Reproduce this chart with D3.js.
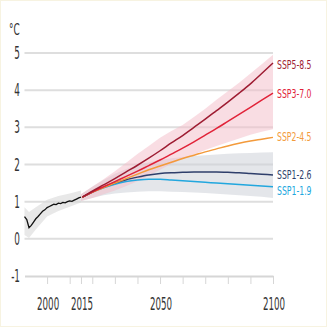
<!DOCTYPE html>
<html>
<head>
<meta charset="utf-8">
<script src="https://cdn.jsdelivr.net/npm/d3@7"></script>
<style>
  html, body { margin: 0; padding: 0; background: #fff; }
  svg { display: block; }
  text { font-family: "Liberation Sans Narrow", "DejaVu Sans Condensed", "Liberation Sans", sans-serif; }
</style>
</head>
<body>
<script>
    // historical record
    const histYears = [1990, 1991, 1992, 1993, 1994, 1995, 1996, 1997, 1998, 1999, 2000, 2001, 2002,
      2003, 2004, 2005, 2006, 2007, 2008, 2009, 2010, 2011, 2012, 2013, 2014, 2015];
    const histValues = [0.6, 0.52, 0.3, 0.36, 0.45, 0.54, 0.6, 0.67, 0.74, 0.78, 0.84, 0.87, 0.9,
      0.93, 0.92, 0.96, 0.95, 0.98, 0.97, 1.0, 1.02, 1.01, 1.04, 1.07, 1.1, 1.12];
    const histBandYears = [1990, 1992, 1995, 2000, 2005, 2010, 2015];
    const histLow = [0.1, 0.02, 0.25, 0.6, 0.75, 0.86, 0.98];
    const histHigh = [0.85, 0.72, 0.85, 1.05, 1.15, 1.22, 1.3];

    // scenario projections
    const projYears = [2015, 2020, 2025, 2030, 2035, 2040, 2045, 2050, 2055, 2060, 2065, 2070, 2075, 2080, 2085, 2090, 2095, 2100];
    const ssp585 = [1.12, 1.28, 1.45, 1.62, 1.8, 1.98, 2.17, 2.37, 2.58, 2.78, 3.0, 3.22, 3.45, 3.68, 3.92, 4.17, 4.45, 4.73];
    const ssp370 = [1.12, 1.26, 1.4, 1.54, 1.68, 1.82, 1.97, 2.12, 2.28, 2.44, 2.61, 2.79, 2.97, 3.16, 3.35, 3.54, 3.73, 3.92];
    const ssp245 = [1.12, 1.25, 1.38, 1.5, 1.62, 1.74, 1.86, 1.96, 2.06, 2.16, 2.25, 2.34, 2.42, 2.5, 2.57, 2.63, 2.68, 2.73];
    const ssp126 = [1.12, 1.26, 1.39, 1.5, 1.59, 1.66, 1.72, 1.76, 1.78, 1.79, 1.8, 1.8, 1.8, 1.79, 1.78, 1.76, 1.74, 1.72];
    const ssp119 = [1.12, 1.25, 1.37, 1.47, 1.54, 1.58, 1.6, 1.6, 1.58, 1.56, 1.54, 1.52, 1.5, 1.48, 1.46, 1.44, 1.42, 1.4];

    // uncertainty ranges
    const highLow = [1.02, 1.1, 1.2, 1.3, 1.42, 1.55, 1.7, 1.86, 2.02, 2.15, 2.27, 2.39, 2.5, 2.6, 2.7, 2.8, 2.88, 2.95];
    const highHigh = [1.2, 1.4, 1.6, 1.82, 2.05, 2.28, 2.5, 2.72, 2.9, 3.06, 3.28, 3.5, 3.74, 3.97, 4.2, 4.45, 4.7, 4.95];
    const lowLow = [1.02, 1.1, 1.17, 1.22, 1.25, 1.27, 1.28, 1.28, 1.27, 1.26, 1.25, 1.23, 1.21, 1.19, 1.17, 1.15, 1.13, 1.1];
    const lowHigh = [1.2, 1.4, 1.58, 1.75, 1.88, 1.98, 2.06, 2.12, 2.17, 2.2, 2.23, 2.25, 2.27, 2.29, 2.3, 2.31, 2.32, 2.33];

    const seriesNames = ["SSP5-8.5", "SSP3-7.0", "SSP2-4.5", "SSP1-2.6", "SSP1-1.9"];
    const seriesColors = ["#9e1c32", "#e12339", "#f39a3b", "#2f3f6b", "#22a7de"];
    const seriesValues = [ssp585, ssp370, ssp245, ssp126, ssp119];

    const yTicks = [-1, 0, 1, 2, 3, 4, 5];
    const xTicks = [2000, 2010, 2015, 2020, 2030, 2040, 2050, 2060, 2070, 2080, 2090, 2100];
    const xLabels = [2000, 2015, 2050, 2100];

    const width = 327, height = 327;

    const svg = d3.select("body").append("svg")
      .attr("width", width)
      .attr("height", height);

    // faint frame
    svg.append("rect")
      .attr("x", 0.5).attr("y", 0.5)
      .attr("width", width - 1).attr("height", height - 1)
      .attr("fill", "#fff")
      .attr("stroke", "#f7f3e1");

    const x = d3.scaleLinear().domain([1990, 2100]).range([24.5, 273]);
    const y = d3.scaleLinear().domain([-1, 5]).range([276, 53]);

    // gridlines
    svg.selectAll("line.grid")
      .data(yTicks.filter(d => d > -1))
      .enter().append("line")
      .attr("class", "grid")
      .attr("x1", x(1990)).attr("x2", x(2100))
      .attr("y1", d => y(d)).attr("y2", d => y(d))
      .attr("stroke", "#dedede")
      .attr("stroke-width", 2);

    // x axis along -1
    const xAxis = svg.append("g")
      .attr("transform", `translate(0,${y(-1)})`)
      .call(d3.axisBottom(x).tickValues(xTicks).tickSize(8).tickSizeOuter(0).tickFormat(""));
    xAxis.select(".domain").attr("stroke", "#d6d6d6").attr("stroke-width", 2);
    xAxis.selectAll(".tick line").attr("stroke", "#d6d6d6").attr("stroke-width", 1);

    // bands
    const band = d3.area()
      .x(d => x(d[0]))
      .y0(d => y(d[1]))
      .y1(d => y(d[2]));

    svg.append("path")
      .datum(histBandYears.map((yr, i) => [yr, histLow[i], histHigh[i]]))
      .attr("d", band)
      .attr("fill", "#d9d9d9")
      .attr("opacity", 0.6);

    svg.append("path")
      .datum(projYears.map((yr, i) => [yr, lowLow[i], lowHigh[i]]))
      .attr("d", band)
      .attr("fill", "#cdd2d9")
      .attr("opacity", 0.55);

    svg.append("path")
      .datum(projYears.map((yr, i) => [yr, highLow[i], highHigh[i]]))
      .attr("d", band)
      .attr("fill", "#f4bcc7")
      .attr("opacity", 0.5);

    // lines
    const line = d3.line()
      .x(d => x(d[0]))
      .y(d => y(d[1]))
      .curve(d3.curveMonotoneX);

    svg.append("path")
      .datum(histYears.map((yr, i) => [yr, histValues[i]]))
      .attr("d", d3.line().x(d => x(d[0])).y(d => y(d[1])))
      .attr("fill", "none")
      .attr("stroke", "#111")
      .attr("stroke-width", 1.3);

    // draw from lowest to highest so the reds end up on top
    seriesValues.slice().reverse().forEach((vals, j) => {
      const i = seriesValues.length - 1 - j;
      svg.append("path")
        .datum(projYears.map((yr, k) => [yr + (k === 0 ? 0.6 : 0), vals[k]]))
        .attr("d", line)
        .attr("fill", "none")
        .attr("stroke", seriesColors[i])
        .attr("stroke-width", 1.5);
    });

    // helper for the squeezed text look
    function label(tx, ty, str, opts) {
      svg.append("text")
        .attr("transform", `translate(${tx},${ty}) scale(${opts.sx},1)`)
        .attr("text-anchor", opts.anchor || "start")
        .attr("font-size", opts.size)
        .attr("fill", opts.color || "#333")
        .text(str);
    }

    // y tick labels
    yTicks.forEach(v => label(20, y(v) + 6, v < 0 ? "-" + Math.abs(v) : String(v), { sx: 0.58, size: 17, anchor: "end" }));

    // x tick labels
    xLabels.forEach(v => label(x(v) + 1, 310, String(v), { sx: 0.57, size: 17, anchor: "middle" }));

    // unit
    label(9, 35, "°C", { sx: 0.62, size: 16 });

    // series end labels
    const labelY = [69, 98, 141, 179, 195];
    seriesNames.forEach((n, i) => label(277, labelY[i], n, { sx: 0.69, size: 12.5, color: seriesColors[i] }));
</script>
</body>
</html>
